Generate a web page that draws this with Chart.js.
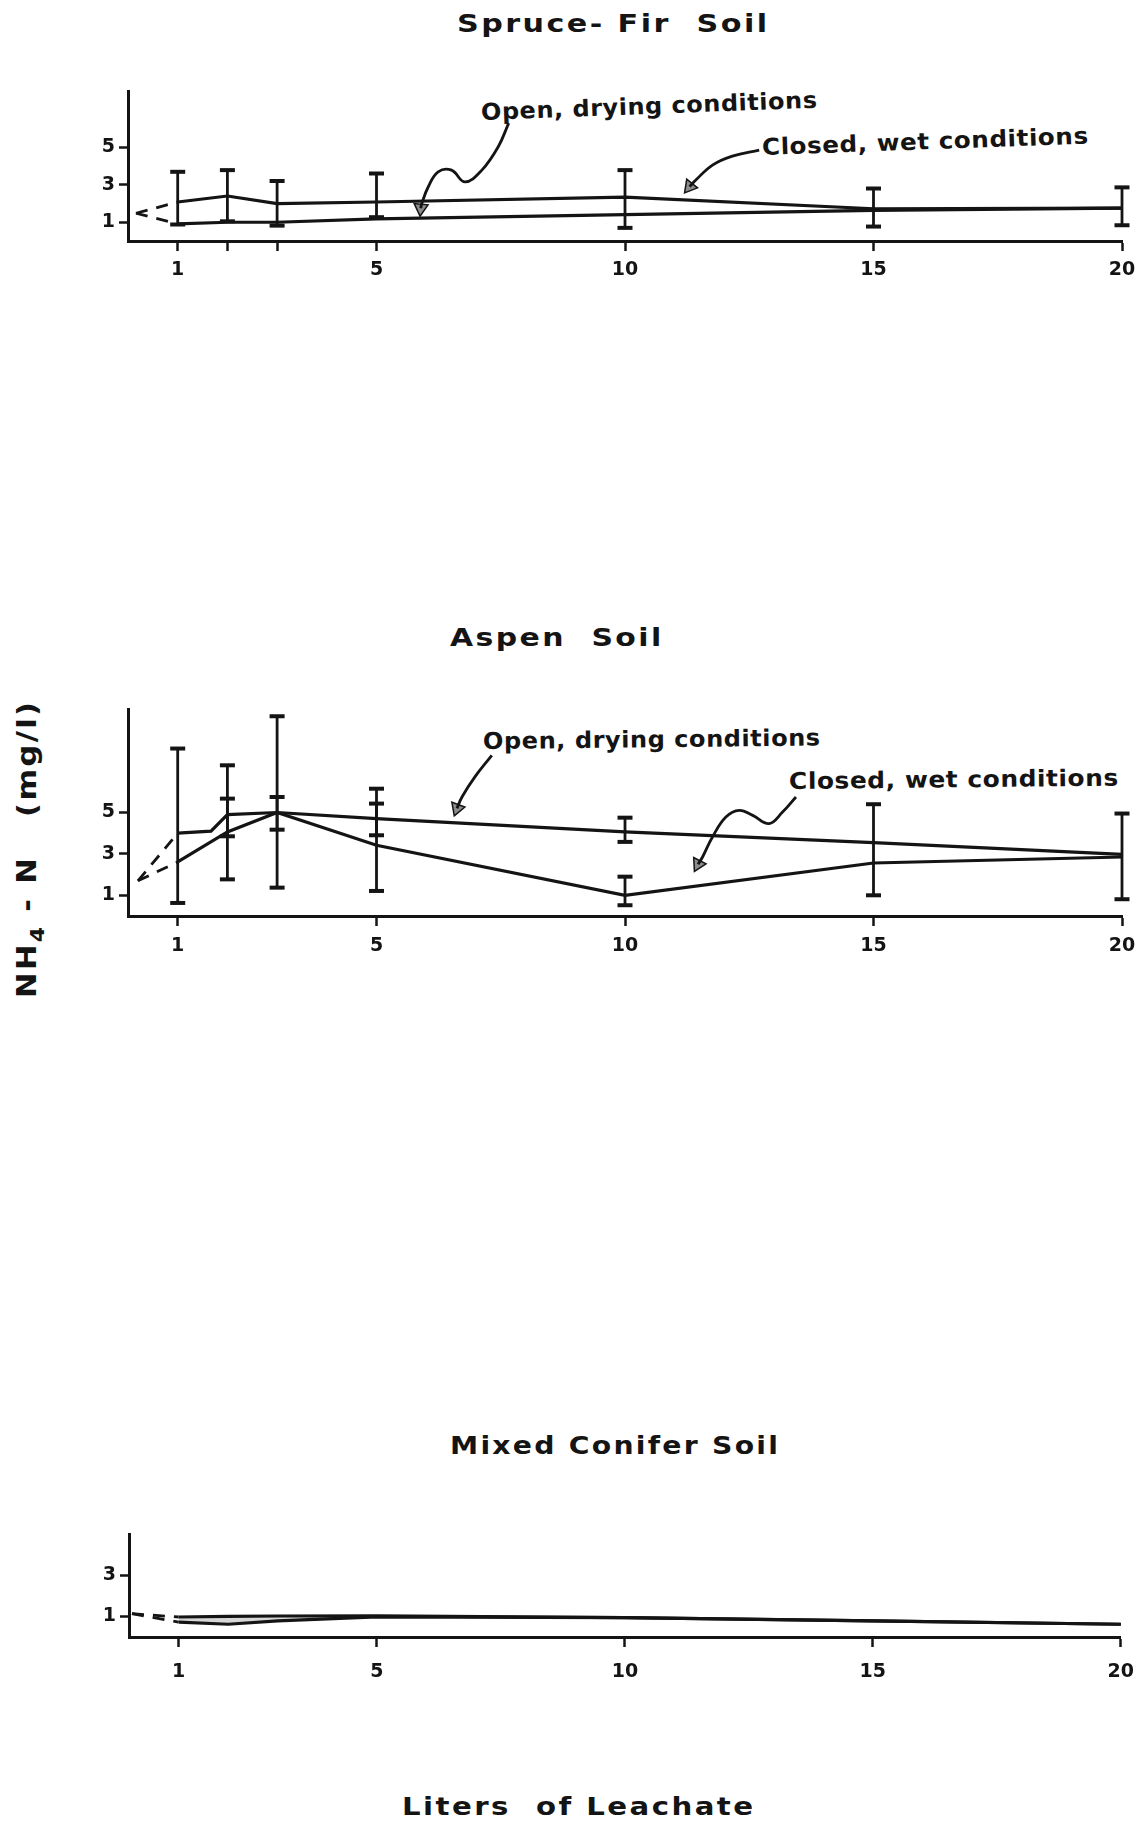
<!DOCTYPE html>
<html>
<head>
<meta charset="utf-8">
<title>NH4-N in leachate</title>
<script src="https://cdn.jsdelivr.net/npm/chart.js@4.4.1/dist/chart.umd.min.js"></script>
<style>
  body { margin: 0; background: #fff; width: 1148px; height: 1821px; position: relative; overflow: hidden; }
  canvas { position: absolute; left: 0; }
  .lbl { position: absolute; white-space: nowrap; font-family: "DejaVu Sans", sans-serif; font-weight: bold; color: #141414; line-height: 1; transform-origin: 0 50%; }
  .title { font-size: 25px; letter-spacing: 2px; }
  .note { font-size: 23px; letter-spacing: 0.5px; }
  #ytitle { font-size: 26px; letter-spacing: 2px; transform-origin: 0 0; }
  #ytitle sub { font-size: 0.72em; vertical-align: -0.45em; }
</style>
</head>
<body>

<div class="lbl title" data-w="313" style="left:457px; top:11px;">Spruce- Fir&nbsp; Soil</div>
<div class="lbl title" data-w="214" style="left:450px; top:625px;">Aspen&nbsp; Soil</div>
<div class="lbl title" data-w="330" style="left:450px; top:1433px;">Mixed Conifer Soil</div>
<div class="lbl title" data-w="353" style="left:402px; top:1795px; font-size:24px;">Liters&nbsp; of Leachate</div>
<div class="lbl" id="ytitle" data-w="298" style="left:14px; top:998px;">NH<sub>4</sub> - N&nbsp;&nbsp; (mg/l)</div>

<div class="lbl note" data-w="337" data-rot="-2.1" style="left:481px; top:101px;">Open, drying conditions</div>
<div class="lbl note" data-w="327" data-rot="-2" style="left:762px; top:136px;">Closed, wet conditions</div>
<div class="lbl note" data-w="338" data-rot="-0.6" style="left:483px; top:730px;">Open, drying conditions</div>
<div class="lbl note" data-w="330" data-rot="-0.6" style="left:789px; top:770px;">Closed, wet conditions</div>

<canvas id="sprucefir" width="1148" height="240" style="top:50px;"></canvas>
<canvas id="aspen" width="1148" height="280" style="top:680px;"></canvas>
<canvas id="mixed" width="1148" height="190" style="top:1500px;"></canvas>

<script>
// Spruce-Fir soil
const sfX = [1, 2, 3, 5, 10, 15, 20];
const sfClosed = [2.08, 2.4, 1.99, 2.08, 2.34, 1.72, 1.75];
const sfOpen = [0.91, 1.0, 1.0, 1.18, 1.41, 1.63, 1.75];
const sfLead = [0.16, 1.48];
const sfErrX = [1, 2, 3, 5, 10, 15, 20];
const sfErrLow = [0.88, 1.05, 0.82, 1.27, 0.70, 0.77, 0.84];
const sfErrHigh = [3.69, 3.78, 3.2, 3.6, 3.78, 2.8, 2.86];
const sfXTicks = [1, 2, 3, 5, 10, 15, 20];
const sfXLabels = [1, 5, 10, 15, 20];
const sfYTicks = [1, 3, 5];
const sfOpenArrow = [[7.66, 6.29], [7.45, 5.03], [7.12, 3.78], [6.78, 3.15], [6.51, 3.78], [6.24, 3.69], [6.04, 2.88], [5.91, 1.99], [5.89, 1.75]];
const sfClosedArrow = [[12.7, 4.85], [12.16, 4.53], [11.76, 4.05], [11.42, 3.24], [11.3, 2.9]];

// Aspen soil
const asOpenX = [1, 1.67, 2, 3, 5, 10, 15, 20];
const asOpen = [4.0, 4.1, 4.9, 5.0, 4.7, 4.06, 3.54, 2.98];
const asClosedX = [1, 2, 3, 5, 10, 15, 20];
const asClosed = [2.61, 4.06, 5.0, 3.42, 1.0, 2.56, 2.85];
const asLead = [0.2, 1.7];
const asErrX = [1, 2, 2, 3, 3, 5, 5, 10, 10, 15, 20];
const asErrLow = [0.63, 1.77, 3.85, 1.37, 4.17, 1.21, 3.9, 0.52, 3.58, 1.0, 0.81];
const asErrHigh = [8.09, 7.28, 5.67, 9.65, 5.75, 6.15, 5.43, 1.9, 4.75, 5.4, 4.95];
const asXTicks = [1, 5, 10, 15, 20];
const asYTicks = [1, 3, 5];
const asOpenArrow = [[7.32, 7.76], [6.98, 6.72], [6.72, 5.75], [6.62, 5.2]];
const asClosedArrow = [[13.44, 5.75], [13.17, 5.02], [12.9, 4.46], [12.57, 4.86], [12.3, 5.1], [12.03, 4.78], [11.76, 3.82], [11.56, 2.85], [11.47, 2.5]];

// Mixed conifer soil
const mcX = [1, 2, 3, 5, 10, 15, 20];
const mcUpper = [0.97, 1.0, 1.02, 1.03, 0.94, 0.78, 0.62];
const mcLower = [0.72, 0.62, 0.78, 0.98, 0.94, 0.78, 0.62];
const mcLead = [0.06, 1.13];
const mcXTicks = [1, 5, 10, 15, 20];
const mcYTicks = [1, 3];

const INK = "#141414";
const TICK_FONT = { family: "DejaVu Sans", size: 19, weight: "bold" };

function xy(xs, ys) {
  return xs.map((x, i) => ({ x: x, y: ys[i] }));
}
function pts(list) {
  return list.map((p) => ({ x: p[0], y: p[1] }));
}

function lineSet(data, extra) {
  return Object.assign(
    { data: data, borderColor: INK, borderWidth: 3.2, pointRadius: 0, tension: 0, fill: false, clip: false },
    extra || {}
  );
}

function leadSets(lead, ends) {
  return ends.map((y) =>
    lineSet([{ x: lead[0], y: lead[1] }, { x: 1, y: y }], { borderWidth: 2.8, borderDash: [12, 9] })
  );
}

function errorSets(xs, lows, highs) {
  return xs.map((x, i) => ({
    data: [{ x: x, y: lows[i] }, { x: x, y: highs[i] }],
    borderColor: INK,
    borderWidth: 2.8,
    pointStyle: "line",
    pointRadius: 7.5,
    pointBorderWidth: 4,
    pointBorderColor: INK,
    clip: false,
  }));
}

function arrowSets(path, rot) {
  return [
    lineSet(pts(path), { borderWidth: 2.8, tension: 0.4 }),
    {
      data: pts(path.slice(-1)),
      showLine: false,
      pointStyle: "triangle",
      pointRadius: 8,
      pointRotation: rot,
      pointBackgroundColor: "#8c8c8c",
      pointBorderColor: INK,
      pointBorderWidth: 1.5,
      clip: false,
    },
  ];
}

function makeChart(id, o) {
  return new Chart(document.getElementById(id), {
    type: "line",
    data: { datasets: o.datasets },
    options: {
      responsive: false,
      animation: false,
      events: [],
      layout: { padding: o.padding },
      plugins: { legend: { display: false }, tooltip: { enabled: false } },
      scales: {
        x: {
          type: "linear",
          min: 0,
          max: 20,
          afterBuildTicks: (s) => { s.ticks = o.xTicks.map((v) => ({ value: v })); },
          afterFit: (s) => { s.height = 40; },
          ticks: {
            autoSkip: false,
            maxRotation: 0,
            padding: o.xPad,
            font: TICK_FONT,
            color: INK,
            callback: (v) => (o.xLabels.includes(v) ? String(v) : ""),
          },
          grid: { drawOnChartArea: false, tickLength: 10, tickWidth: 2.5, tickColor: INK },
          border: { color: INK, width: 3 },
        },
        y: {
          type: "linear",
          min: 0,
          max: o.yMax,
          afterBuildTicks: (s) => { s.ticks = o.yTicks.map((v) => ({ value: v })); },
          afterFit: (s) => { s.width = 60; },
          ticks: { padding: 4, font: TICK_FONT, color: INK },
          grid: { drawOnChartArea: false, tickLength: 9, tickWidth: 2.5, tickColor: INK },
          border: { color: INK, width: 3 },
        },
      },
    },
  });
}

makeChart("sprucefir", {
  yMax: 8,
  yTicks: sfYTicks,
  xTicks: sfXTicks,
  xLabels: sfXLabels,
  xPad: 8,
  padding: { top: 41, left: 68, right: 26, bottom: 9 },
  datasets: [
    lineSet(xy(sfX, sfClosed)),
    lineSet(xy(sfX, sfOpen)),
    ...leadSets(sfLead, [sfClosed[0], sfOpen[0]]),
    ...errorSets(sfErrX, sfErrLow, sfErrHigh),
    ...arrowSets(sfOpenArrow, 185),
    ...arrowSets(sfClosedArrow, 219),
  ],
});

makeChart("aspen", {
  yMax: 10,
  yTicks: asYTicks,
  xTicks: asXTicks,
  xLabels: asXTicks,
  xPad: 9,
  padding: { top: 29, left: 68, right: 26, bottom: 4 },
  datasets: [
    lineSet(xy(asOpenX, asOpen)),
    lineSet(xy(asClosedX, asClosed)),
    ...leadSets(asLead, [asOpen[0], asClosed[0]]),
    ...errorSets(asErrX, asErrLow, asErrHigh),
    ...arrowSets(asOpenArrow, 200),
    ...arrowSets(asClosedArrow, 207),
  ],
});

makeChart("mixed", {
  yMax: 5,
  yTicks: mcYTicks,
  xTicks: mcXTicks,
  xLabels: mcXTicks,
  xPad: 14,
  padding: { top: 34, left: 69, right: 19, bottom: 13 },
  datasets: [
    lineSet(xy(mcX, mcUpper)),
    lineSet(xy(mcX, mcLower), { fill: "-1", backgroundColor: "rgba(0,0,0,0.16)" }),
    ...leadSets(mcLead, [mcUpper[0], mcLower[0]]),
  ],
});

// stretch the plotter-style lettering to the widths seen in the figure
document.querySelectorAll("[data-w]").forEach((el) => {
  const k = Number(el.dataset.w) / el.offsetWidth;
  const rot = el.dataset.rot ? "rotate(" + el.dataset.rot + "deg) " : "";
  if (el.id === "ytitle") {
    el.style.transform = "rotate(-90deg) scaleX(" + k + ")";
  } else {
    el.style.transform = rot + "scaleX(" + k + ")";
  }
});
</script>
</body>
</html>
